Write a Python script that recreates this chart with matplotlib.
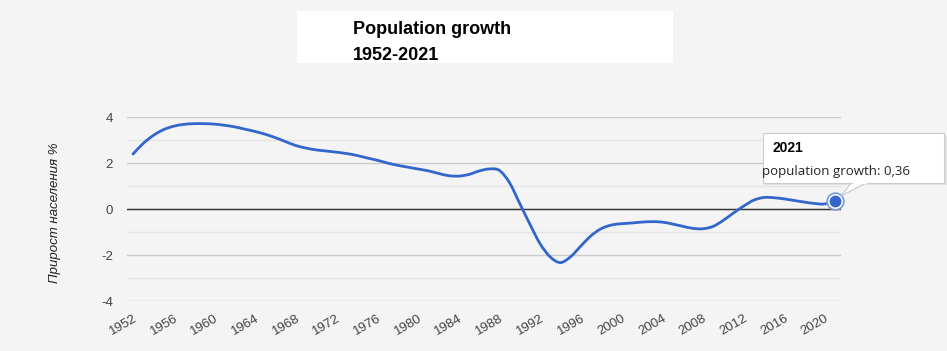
import matplotlib.pyplot as plt
from matplotlib.patches import Rectangle, Polygon, PathPatch
from matplotlib.path import Path

# annual population growth, %
years = list(range(1952, 2022))
growth = [2.39, 2.85, 3.20, 3.45, 3.60, 3.68, 3.71, 3.71, 3.69, 3.64,
          3.57, 3.47, 3.37, 3.25, 3.10, 2.93, 2.76, 2.65, 2.57, 2.52,
          2.47, 2.41, 2.33, 2.22, 2.12, 2.00, 1.90, 1.82, 1.74, 1.66,
          1.55, 1.45, 1.43, 1.50, 1.65, 1.74, 1.68, 1.15, 0.25, -0.65,
          -1.50, -2.08, -2.33, -2.08, -1.62, -1.17, -0.86, -0.70, -0.64, -0.61,
          -0.57, -0.55, -0.57, -0.65, -0.75, -0.84, -0.86, -0.76, -0.50, -0.18,
          0.12, 0.38, 0.50, 0.49, 0.44, 0.37, 0.30, 0.24, 0.22, 0.36]
xticks = list(range(1952, 2021, 4))
yticks = [-4, -2, 0, 2, 4]
minor_yticks = [-3, -1, 1, 3]

title_lines = ["Population growth", "1952-2021"]
ylabel = "Прирост населения %"
tip_year = "2021"
tip_text = "population growth: 0,36"

bg = "#f4f4f4"
line_color = "#3366cc"
label_color = "#444444"


def smooth_path(xs, ys):
    # Catmull-Rom style cubic segments through the data points (like curveType 'function')
    n = len(xs)
    verts = [(xs[0], ys[0])]
    codes = [Path.MOVETO]
    for i in range(n - 1):
        x0, y0 = xs[max(i - 1, 0)], ys[max(i - 1, 0)]
        x1, y1 = xs[i], ys[i]
        x2, y2 = xs[i + 1], ys[i + 1]
        x3, y3 = xs[min(i + 2, n - 1)], ys[min(i + 2, n - 1)]
        verts += [(x1 + (x2 - x0) / 6, y1 + (y2 - y0) / 6),
                  (x2 - (x3 - x1) / 6, y2 - (y3 - y1) / 6),
                  (x2, y2)]
        codes += [Path.CURVE4] * 3
    return Path(verts, codes)


fig = plt.figure(figsize=(9.47, 3.51), dpi=100, facecolor=bg)
ax = fig.add_axes([127 / 947, 1 - 301 / 351, 714 / 947, 184 / 351])
ax.set_facecolor(bg)

ax.set_xlim(1951.41, 2021.59)
ax.set_ylim(-4, 4)

for y in yticks:
    ax.axhline(y, color="#cccccc", linewidth=1, zorder=1)
for y in minor_yticks:
    ax.axhline(y, color="#e4e4e4", linewidth=1, zorder=1)
ax.axhline(0, color="#333333", linewidth=1, zorder=2)

ax.add_patch(PathPatch(smooth_path(years, growth), facecolor="none",
                       edgecolor=line_color, linewidth=2, zorder=3,
                       capstyle="round", joinstyle="round"))

# highlighted last point
ax.plot(years[-1], growth[-1], "o", markersize=12, markerfacecolor="white",
        markeredgecolor="#7f9bd8", markeredgewidth=1.3, zorder=4, clip_on=False)
ax.plot(years[-1], growth[-1], "o", markersize=7.5, color=line_color,
        zorder=5, clip_on=False)

for s in ax.spines.values():
    s.set_visible(False)
ax.tick_params(length=0)
ax.set_yticks(yticks)
ax.set_yticklabels([str(v) for v in yticks], fontsize=9.5, color=label_color,
                   family="Liberation Sans")
ax.tick_params(axis="y", pad=10)
ax.set_xticks(xticks)
ax.set_xticklabels([str(v) for v in xticks], fontsize=9.5, color=label_color,
                   family="Liberation Sans", rotation=30, ha="right",
                   rotation_mode="anchor")
ax.tick_params(axis="x", pad=8)

fig.text(55 / 947, 1 - 213 / 351, ylabel, rotation=90, ha="center",
         va="center", fontsize=9.5, style="italic", color="#222222",
         family="Liberation Sans")

# title box
fig.patches.append(Rectangle((297 / 947, 1 - 63 / 351), 376 / 947, 52 / 351,
                             transform=fig.transFigure, facecolor="white",
                             edgecolor="none", zorder=0))
fig.text(353 / 947, 1 - 30 / 351, title_lines[0], fontsize=13,
         fontweight="bold", va="center", ha="left",
         family="Liberation Sans")
fig.text(353 / 947, 1 - 55 / 351, title_lines[1], fontsize=13,
         fontweight="bold", va="center", ha="left",
         family="Liberation Sans")

# tooltip
W, H = 947, 351
fig.patches.append(Rectangle((765 / W, 1 - 185 / H), 182 / W, 49 / H,
                             transform=fig.transFigure, facecolor="#e2e2e2",
                             edgecolor="none", zorder=6))
fig.patches.append(Polygon([(852 / W, 1 - 182 / H), (841 / W, 1 - 196 / H),
                            (868 / W, 1 - 182 / H)],
                           transform=fig.transFigure, facecolor="white",
                           edgecolor="#c8c8c8", linewidth=0.8, zorder=6))
fig.patches.append(Rectangle((763 / W, 1 - 183 / H), 181 / W, 50 / H,
                             transform=fig.transFigure, facecolor="white",
                             edgecolor="#cccccc", linewidth=0.8, zorder=6))
fig.patches.append(Rectangle((853 / W, 1 - 184 / H), 14 / W, 3 / H,
                             transform=fig.transFigure, facecolor="white",
                             edgecolor="none", zorder=7))
fig.text(772 / W, 1 - 148 / H, tip_year, fontsize=10, fontweight="bold",
         va="center", ha="left", family="Liberation Sans", zorder=8)
fig.text(762 / W, 1 - 171 / H, tip_text, fontsize=9.5, va="center",
         ha="left", family=["Open Sans", "DejaVu Sans"], zorder=8,
         color="#222222")

fig.savefig("out.png", dpi=100, facecolor=bg)
